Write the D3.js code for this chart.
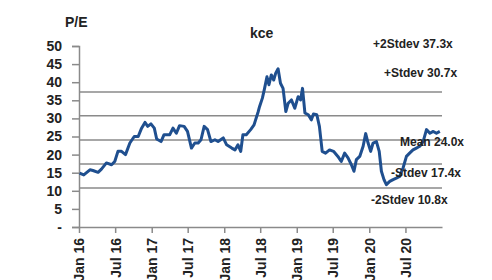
<!DOCTYPE html>
<html>
<head>
<meta charset="utf-8">
<script src="https://cdn.jsdelivr.net/npm/d3@7"></script>
<style>
  body { margin: 0; background: #fff; }
  text { font-family: "Liberation Sans", Arial, sans-serif; font-weight: bold; fill: #222; }
</style>
</head>
<body>
<svg id="chart" width="492" height="280"></svg>
<script>
// P/E history (roughly every 2-3 weeks)
const dates = ["2016-01-04","2016-01-25","2016-02-25","2016-03-11","2016-04-06","2016-04-23","2016-05-18","2016-06-13","2016-06-29",
  "2016-07-15","2016-08-02","2016-08-22","2016-09-13","2016-10-05","2016-10-25","2016-11-11","2016-11-28","2016-12-12","2016-12-28",
  "2017-01-14","2017-01-26","2017-02-17","2017-03-04","2017-04-02","2017-04-18","2017-05-05","2017-05-21","2017-06-13","2017-06-30",
  "2017-07-20","2017-08-06","2017-08-23","2017-09-06","2017-09-22","2017-10-09","2017-10-26","2017-11-15","2017-12-01","2017-12-27",
  "2018-01-13","2018-02-08","2018-02-24","2018-03-11","2018-03-25","2018-04-05","2018-04-22","2018-05-14","2018-05-31","2018-06-20",
  "2018-06-28","2018-07-12","2018-07-23","2018-08-04","2018-08-14","2018-08-26","2018-09-07","2018-09-17","2018-09-29","2018-10-11",
  "2018-10-24","2018-11-07","2018-11-19","2018-12-05","2018-12-22","2019-01-08","2019-01-20","2019-01-30","2019-02-11","2019-02-28",
  "2019-03-15","2019-03-26","2019-04-12","2019-04-25","2019-05-09","2019-05-26","2019-06-15","2019-07-05","2019-07-27","2019-08-13",
  "2019-08-30","2019-09-16","2019-10-03","2019-10-16","2019-10-28","2019-11-14","2019-12-01","2019-12-14","2019-12-26","2020-01-08",
  "2020-01-20","2020-02-06","2020-02-20","2020-03-02","2020-03-15","2020-03-27","2020-04-13","2020-04-30","2020-05-16","2020-06-02",
  "2020-06-19","2020-07-06","2020-07-22","2020-08-08","2020-08-25","2020-09-11","2020-09-28","2020-10-15","2020-11-01","2020-11-18",
  "2020-12-04","2020-12-21"];
const pe = [14.9,14.4,15.8,15.6,15.1,16.0,17.7,17.2,18.1,
  20.9,20.9,20.0,23.2,25.0,25.0,27.3,28.9,27.8,28.5,
  27.3,24.3,23.6,25.5,25.5,27.3,25.9,28.0,27.8,26.4,
  21.8,23.2,23.2,24.1,27.8,26.9,23.6,24.1,23.6,24.6,
  22.7,21.8,21.3,22.7,20.9,25.5,25.5,26.9,28.2,31.7,
  33.3,35.6,38.3,41.5,39.3,42.0,40.6,42.5,43.7,39.7,
  38.3,31.9,34.2,35.1,32.8,36.0,35.1,38.3,31.5,31.0,
  29.6,31.2,31.0,27.8,20.9,20.4,21.3,20.9,19.5,18.1,
  20.4,19.1,17.2,15.4,18.6,19.5,22.3,25.8,23.2,20.9,
  23.2,23.6,20.9,15.4,13.1,11.7,12.6,13.1,13.5,14.0,
  16.3,19.5,20.4,21.3,21.8,22.3,23.6,26.9,25.9,26.4,
  25.9,26.4];

// mean / stdev bands
const bandValues = [37.3, 30.7, 24.0, 17.4, 10.8];
const bandLabels = ["+2Stdev 37.3x", "+Stdev 30.7x", "Mean 24.0x", "-Stdev 17.4x", "-2Stdev 10.8x"];

const yTicks = [0, 5, 10, 15, 20, 25, 30, 35, 40, 45, 50];
const xTicks = ["2016-01-01","2016-07-01","2017-01-01","2017-07-01","2018-01-01","2018-07-01",
  "2019-01-01","2019-07-01","2020-01-01","2020-07-01"];

const parse = d3.timeParse("%Y-%m-%d");
const fmtTick = d3.timeFormat("%b %y");

const svg = d3.select("#chart");
const plotLeft = 79, plotRight = 442, plotTop = 46, plotBottom = 227;

const x = d3.scaleTime()
  .domain([parse("2016-01-01"), parse("2021-01-01")])
  .range([plotLeft, plotRight]);
const y = d3.scaleLinear().domain([0, 50]).range([plotBottom, plotTop]);

// band lines first so the series sits on top
svg.selectAll("line.band")
  .data(bandValues)
  .enter()
  .append("line")
  .attr("class", "band")
  .attr("x1", plotLeft)
  .attr("x2", plotRight)
  .attr("y1", d => y(d))
  .attr("y2", d => y(d))
  .style("stroke", "#8a8a8a")
  .style("stroke-width", 1.5);

// y axis
const yAxis = svg.append("g")
  .attr("transform", "translate(" + plotLeft + ",0)")
  .call(d3.axisLeft(y).tickValues(yTicks).tickSize(7).tickPadding(10)
    .tickFormat(d => d === 0 ? "-" : d));
yAxis.select(".domain").style("stroke", "#8a8a8a").style("stroke-width", 1.5);
yAxis.selectAll(".tick line").style("stroke", "#8a8a8a").style("stroke-width", 1.5);
yAxis.selectAll(".tick text").style("font-size", "14px").style("font-family", null);

// x axis, labels turned on their side
const xAxis = svg.append("g")
  .attr("transform", "translate(0," + plotBottom + ")")
  .call(d3.axisBottom(x).tickValues(xTicks.map(parse)).tickSize(6).tickSizeOuter(0).tickFormat(fmtTick));
xAxis.select(".domain").style("stroke", "#8a8a8a").style("stroke-width", 1.5);
xAxis.selectAll(".tick line").style("stroke", "#8a8a8a").style("stroke-width", 1.5);
xAxis.selectAll(".tick text")
  .style("font-size", "14px")
  .style("font-family", null)
  .attr("transform", "rotate(-90)")
  .attr("text-anchor", "end")
  .attr("x", -11)
  .attr("y", 0)
  .attr("dy", "0.35em");

// the P/E line
const line = d3.line()
  .x((d, i) => x(parse(dates[i])))
  .y(d => y(d));

svg.append("path")
  .datum(pe)
  .attr("d", line)
  .style("fill", "none")
  .style("stroke", "#1f4f8f")
  .style("stroke-width", 3)
  .style("stroke-linejoin", "round");

// band labels - placed by hand like the original
const labelPos = [[373, 48], [384, 77], [400, 146], [391, 177], [371, 204]];
svg.selectAll("text.band-label")
  .data(bandLabels)
  .enter()
  .append("text")
  .attr("class", "band-label")
  .attr("x", (d, i) => labelPos[i][0])
  .attr("y", (d, i) => labelPos[i][1])
  .style("font-size", "12px")
  .text(d => d);

svg.append("text").attr("x", 65).attr("y", 27).style("font-size", "14px").text("P/E");
svg.append("text").attr("x", 250).attr("y", 38).style("font-size", "14px").text("kce");
</script>
</body>
</html>
